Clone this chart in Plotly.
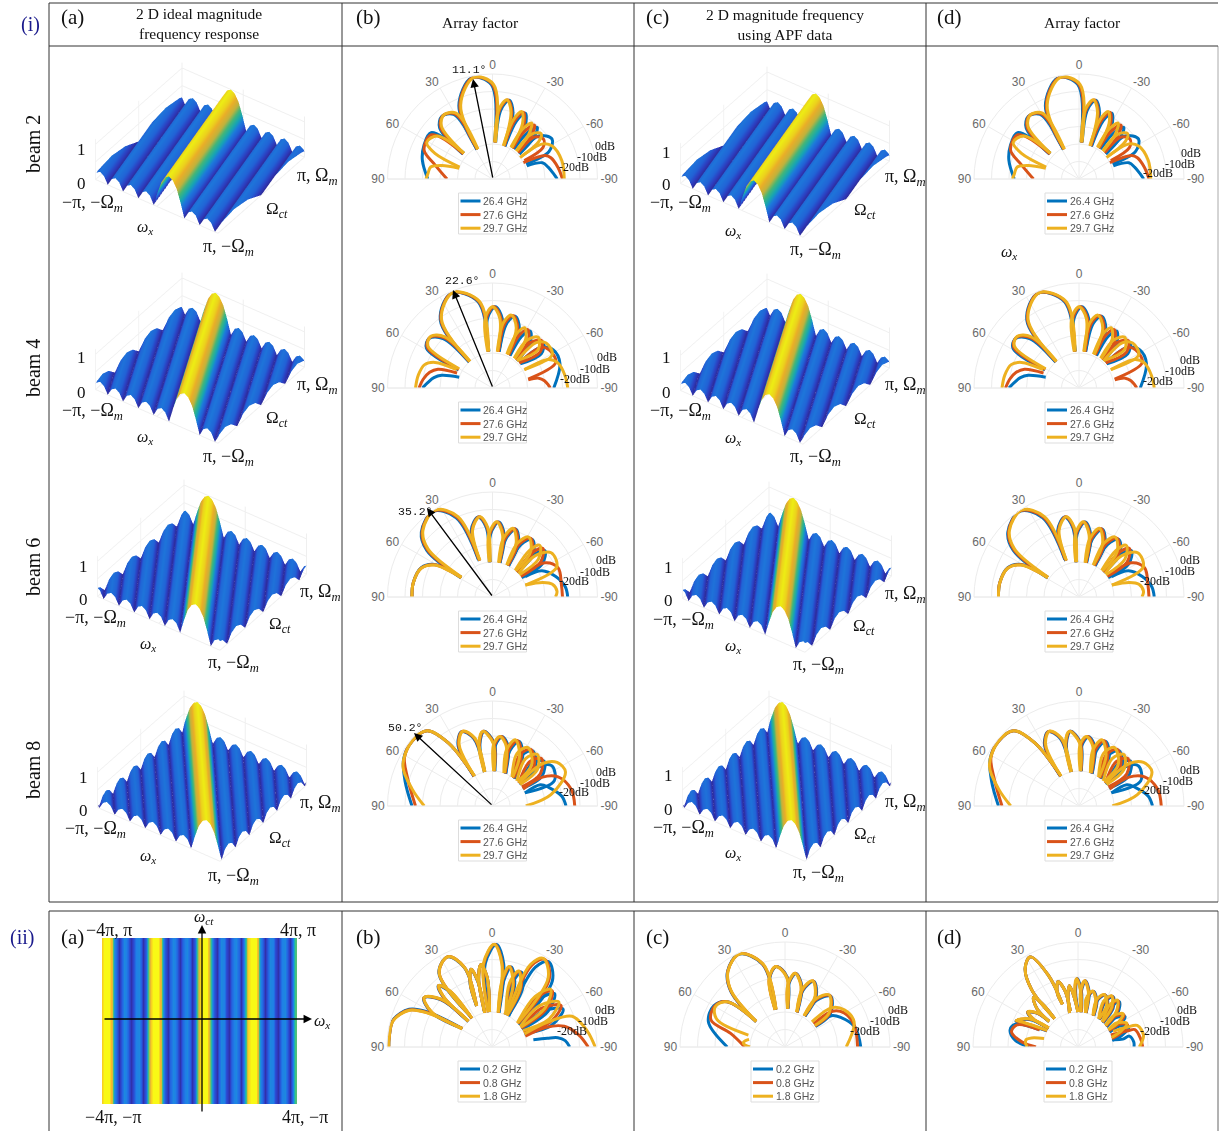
import numpy as np
import plotly.graph_objects as go

W, H = 1223, 1131
def X(p): return p / W
def Y(p): return 1 - p / H

# ---- colours and legend text
BLUE, RED, YEL = "#0072BD", "#D95319", "#EDB120"
FREQ_I = ["26.4 GHz", "27.6 GHz", "29.7 GHz"]
FREQ_II = ["0.2 GHz", "0.8 GHz", "1.8 GHz"]
COLORSCALE = [[0, "#2f2da0"], [.08, "#2f3fc8"], [.18, "#2464e0"], [.3, "#1f80e6"], [.42, "#18aebc"],
              [.56, "#45c080"], [.7, "#c9bb40"], [.84, "#f6b72a"], [1, "#f9f915"]]

# ---- 3-D surface: magnitude against distance from the ridge, ridge slope per beam
PROFILE_U = [0, .0625, .125, .1875, .25, .3125, .375, .4375, .5, .5625, .625, .6875, .75, .8125, .875, .9375, 1,
             1.0625, 1.125, 1.1875, 1.25, 1.3125, 1.375, 1.4375, 1.5, 1.5625, 1.625, 1.6875, 1.75, 1.8125, 1.875, 1.9375, 2]
PROFILE_Z = [1, .93, .74, .40, 0, .22, .29, .22, 0, .21, .28, .21, 0, .21, .28, .21, 0,
             .2, .27, .2, 0, .2, .27, .2, 0, .2, .27, .2, 0, .2, .27, .2, 0]
RIDGE_SLOPE = [.2, .45, .6, .78]

# ---- heat map (ii)(a): one period of the stripe pattern across omega_x
STRIPE_PERIOD = [.9, 1, 1, 1, .75, .35, .15, .02, .18, .32, .3, .12, .02, .15, .3, .32, .18, .02, .18, .55]

# ---- polar panels: every lobe has its angles (deg) and levels (dB)
# beam 2
B2_T = [[27, 24, 11, 0, -4], [49, 45, 38, 30, 27], [-4, -6, -11, -16, -19.5], [-19.5, -21, -25, -30, -33], [-33, -34, -38, -42, -44]]
B2_R = [[-41, -14, -1, -6, -39], [-38, -18, -14, -17, -41], [-39, -20, -14, -20, -40], [-40, -24, -18, -24, -39], [-39, -27, -21, -27, -39]]
B2_SHIFT_BLUE = [.7, 1, -1, -1.5, -3]
B2_SHIFT_YEL = [-.7, -1, .7, 1.5, 3]
B2_BLUE_T = [[48, 53, 64, 75, 90], [-47, -47, -56, -64, -66], [-69, -72, -78, -85, -90]]
B2_BLUE_R = [[-38, -16, -16.4, -18.5, -23], [-39, -24, -19, -24, -39], [-39, -30, -27.5, -25, -23]]
B2_RED_T = [[49, 54, 67, 76, 90], [-44, -45, -52, -58, -60], [-62, -66, -70, -80, -90]]
B2_RED_R = [[-38, -17, -17.5, -26, -34], [-39, -26, -23, -26, -39], [-40, -27, -24.5, -22, -20]]
B2_YEL_T = [[48, 52, 61, 66, 70], [72, 75, 79, 85, 90], [-40, -41, -47, -51, -52], [-52, -55, -61, -75, -90]]
B2_YEL_R = [[-38, -20, -17, -24, -40], [-40, -30, -24, -23, -22], [-39, -26, -22, -26, -39], [-40, -25, -21, -19, -19]]
# beam 4
B4_T = [[41, 37, 23, 9, 6.5], [61, 58, 51, 44, 41], [6.5, 5, -1, -7, -9], [-9, -11, -16, -23, -26], [-26, -27, -31, -37, -40]]
B4_R = [[-40, -11, -1, -10, -39], [-38, -16, -14, -20, -40], [-39, -20, -13.5, -20, -39], [-39, -22, -17, -23, -39], [-39, -26, -21, -26, -39]]
B4_SHIFT_BLUE = [.5, 1, -1, -1.5, -2.5]
B4_SHIFT_YEL = [-.5, -1, 1, 1.5, 3]
B4_BLUE_T = [[72, 76, 80, 85, 90], [-42, -41, -48, -55, -49], [-47, -50, -58, -70, -90]]
B4_BLUE_R = [[-40, -30, -26, -23, -20], [-39, -26, -21, -26, -39], [-39, -24, -19, -19, -25]]
B4_RED_T = [[67, 71, 76, 83, 90], [-40, -40, -46, -53, -47], [-47, -50, -56, -68, -76], [-77, -78, -82, -87, -90]]
B4_RED_R = [[-38, -27, -23, -20, -18], [-39, -26, -21, -26, -39], [-39, -24, -21, -21, -39], [-39, -33, -30, -28, -27]]
B4_YEL_T = [[63, 66, 71, 80, 90], [-36, -36, -42, -50, -42], [-42, -44, -50, -61, -60], [-60, -63, -69, -80, -90]]
B4_YEL_R = [[-37, -24, -19, -17, -16], [-39, -26, -21, -26, -39], [-39, -24, -20, -21, -39], [-39, -24, -20, -18, -17]]
# beam 6
B6_T = [[58, 54, 47, 34, 24, 20], [58, 61, 68, 80, 90], [19.5, 17, 9.5, 4.5, 4.5], [4.5, 2.5, -4, -10, -11.5], [-11.5, -12, -18, -25, -26], [-26, -27, -33, -42, -44], [-44, -42, -46, -54, -54]]
B6_R = [[-39, -14, -5, -.5, -10, -37], [-39, -22, -16, -14, -14], [-38, -20, -13.5, -20, -40], [-40, -24, -17, -24, -40], [-40, -26, -19, -26, -40], [-40, -26, -20, -26, -40], [-40, -26, -20, -26, -40]]
B6_SHIFT_BLUE = [.7, -.3, .7, -.8, -1, -1.5, -2.5]
B6_SHIFT_YEL = [-.7, .3, -.5, .8, 1.5, 2, 3.5]
B6_BLUE_T = [[-58, -62, -72, -82, -90]]
B6_BLUE_R = [[-38, -28, -22, -18, -17]]
B6_RED_T = [[-54, -57, -66, -80, -90]]
B6_RED_R = [[-39, -24, -19, -20, -20]]
B6_YEL_T = [[-48, -46, -53, -65, -70], [-70, -74, -78, -85, -90]]
B6_YEL_R = [[-40, -26, -18, -19.5, -40], [-40, -30, -25, -23, -24]]
# beam 8
B8_T = [[31.5, 29, 22, 15, 13], [13, 12, 7, -1, -3], [-3, -2, -7, -14, -21], [-21, -16, -21, -30, -37], [-37, -28, -34, -46, -49], [-49, -40, -46, -56, -57]]
B8_R = [[-40, -20, -14, -20, -40], [-40, -24, -17, -24, -40], [-40, -25, -20, -25, -40], [-40, -27, -20, -27, -40], [-40, -27, -21, -27, -40], [-40, -27, -21, -27, -40]]
B8_SHIFT_BLUE = [.5, -.5, -1, -1.5, -2, -3]
B8_SHIFT_YEL = [-.5, .5, 1, 2, 3, 5]
B8_BLUE_T = [[90, 74, 62, 51, 41, 35, 31.5], [-52, -50, -56, -68, -68], [-68, -66, -72, -82, -90]]
B8_BLUE_R = [[-14, -8, -2.5, -1, -3, -16, -40], [-40, -25, -19, -22, -40], [-40, -30, -26, -20, -18]]
B8_RED_T = [[90, 72, 61, 51, 41, 35, 31.5], [-61, -60, -66, -78, -90]]
B8_RED_R = [[-16, -9, -2.5, -1, -3, -16, -40], [-40, -27, -19, -14, -13]]
B8_YEL_T = [[90, 78, 66, 52, 41, 35, 31], [-49, -50, -56, -65, -79, -90]]
B8_YEL_R = [[-21, -13, -4, -1, -3, -16, -40], [-40, -22, -15.5, -14, -26, -41]]
# row ii, panel b
IB_T = [[90, 85, 75, 66, 62, 58.6], [58, 60, 54, 47, 42.5], [42.5, 44, 41, 37, 35], [35, 35.5, 26, 19, 20.5], [20.5, 19, 15, 12, 12], [12, 11, 7.5, 4, 4],
        [6, 5.5, -1.5, -7, -10.5], [-10.5, -9, -12.5, -19, -22], [-22, -16, -20, -26, -26], [-26, -26, -31, -40, -48], [-48, -42, -47, -55, -57], [-57, -52, -59, -67, -65]]
IB_R = [[-1, -1, -1.5, -8, -18, -40], [-40, -20, -12, -20, -40], [-40, -20, -13.5, -20, -40], [-38, -8, -2.6, -12, -35], [-35, -22, -14, -22, -40], [-40, -20, -12.5, -20, -40],
        [-40, -12, -1.3, -12, -40], [-40, -22, -13, -22, -40], [-38, -22, -14, -22, -40], [-40, -8, -1.5, -9, -40], [-40, -22, -13, -22, -40], [-40, -24, -14, -24, -40]]
IB_SHIFT_BLUE = [-.5, .3, .3, .2, .2, 0, -1, -1, -1.5, -2.5, -2.5, -3]
IB_SHIFT_YEL = [.3, -.2, -.2, 0, 0, 0, .3, .5, .7, 1, 1.5, 3]
IB_BLUE_T = [[-80, -81, -82, -85, -90]]
IB_BLUE_R = [[-36, -28, -22, -18, -15.6]]
IB_RED_T = [[-72, -70, -74, -82, -90]]
IB_RED_R = [[-40, -27, -17, -10, -5]]
IB_YEL_T = [[-68, -66, -69, -80, -90]]
IB_YEL_R = [[-40, -25, -11, -5, -1]]
# row ii, panel c
IC_T = [[48.5, 44, 37, 26, 15, 13.5], [14.8, 13, 6.4, -1.5, -4], [-4, -3, -8, -15, -19], [-19, -17, -23, -31, -32], [-32, -33, -41, -53, -55]]
IC_R = [[-38, -15.6, -5.7, -.8, -11, -38], [-38, -20, -13.7, -20, -38], [-38, -24, -17.5, -24, -39], [-39, -26, -19, -26, -39], [-39, -28, -21, -28, -39]]
IC_SHIFT_BLUE = [.2, -.3, -.5, -.7, -1]
IC_SHIFT_YEL = [-.2, .2, .3, .5, .8]
IC_BLUE_T = [[48.5, 52, 60, 72, 90], [-54, -56, -62, -74, -90]]
IC_BLUE_R = [[-38, -18, -13, -14, -27], [-39, -28, -24, -18.5, -16.7]]
IC_RED_T = [[48.5, 52, 60, 70, 76, 90], [-51, -53, -60, -72, -90]]
IC_RED_R = [[-38, -18, -13.5, -15, -28, -37], [-39, -26, -21, -18.5, -18.5]]
IC_YEL_T = [[48.5, 52, 60, 68, 72], [78, 81, 84, 87, 90], [-47, -50, -58, -70, -90]]
IC_YEL_R = [[-38, -18, -14, -18, -38], [-39, -37, -36, -37, -40], [-39, -25, -20, -18, -25]]
# row ii, panel d
ID_T = [[39.5, 39, 34, 28, 22.5, 20], [48.5, 47, 42, 39.5, 39.5], [57, 58, 55, 50, 48.5], [62, 66, 67, 60, 57], [20, 21, 17, 13, 12], [14, 11, 8, 5, 0], [0, 3, 1, -3, -5], [-5, -3, -6, -11, -13],
        [-13, -10, -15, -22, -26], [-26, -22, -27, -35, -37], [-37, -30, -34, -41, -45], [-45, -38, -41, -48, -53], [-53, -50, -55, -60, -62], [-62, -60, -66, -72, -76]]
ID_R = [[-39, -18, -6, -1.7, -15.6, -34], [-38, -28, -22, -28, -39], [-40, -30, -25, -30, -38], [-40, -26, -21.6, -28, -40], [-34, -27, -21, -27, -39], [-40, -30, -24.6, -30, -40], [-40, -28, -21, -28, -40], [-40, -28, -22, -28, -40],
        [-40, -32, -27, -32, -40], [-40, -31, -26.5, -31, -40], [-40, -30, -25, -30, -40], [-40, -30, -25, -30, -40], [-40, -33, -28, -33, -40], [-40, -34, -29, -34, -40]]
ID_SHIFT_BLUE = [0, 0, .3, .5, 0, 0, -.5, -.5, -.7, -.8, -1, -1.5, -2, -3]
ID_SHIFT_YEL = [0, 0, -.2, -.3, 0, 0, .3, .3, .5, .6, .8, 1, 1.5, 2]
ID_BLUE_T = [[66, 70, 76, 84, 90], [-78, -80, -78, -85, -90]]
ID_BLUE_R = [[-36, -22, -20, -24, -32], [-40, -34, -30, -28, -28]]
ID_RED_T = [[66, 70, 77, 85, 90], [-70, -72, -73, -82, -90]]
ID_RED_R = [[-36, -23, -21, -28, -36], [-40, -30, -26, -24, -23]]
ID_YEL_T = [[76, 79, 82, 86, 90], [-66, -68, -70, -80, -90]]
ID_YEL_R = [[-40, -33, -30, -30, -31], [-38, -30, -24, -22, -25]]


def panel(t, r, sb, sy, bt, br, rt, rr, yt, yr):
    return dict(t=t, r=r, sb=sb, sy=sy, bt=bt, br=br, rt=rt, rr=rr, yt=yt, yr=yr)

P2 = panel(B2_T, B2_R, B2_SHIFT_BLUE, B2_SHIFT_YEL, B2_BLUE_T, B2_BLUE_R, B2_RED_T, B2_RED_R, B2_YEL_T, B2_YEL_R)
P4 = panel(B4_T, B4_R, B4_SHIFT_BLUE, B4_SHIFT_YEL, B4_BLUE_T, B4_BLUE_R, B4_RED_T, B4_RED_R, B4_YEL_T, B4_YEL_R)
P6 = panel(B6_T, B6_R, B6_SHIFT_BLUE, B6_SHIFT_YEL, B6_BLUE_T, B6_BLUE_R, B6_RED_T, B6_RED_R, B6_YEL_T, B6_YEL_R)
P8 = panel(B8_T, B8_R, B8_SHIFT_BLUE, B8_SHIFT_YEL, B8_BLUE_T, B8_BLUE_R, B8_RED_T, B8_RED_R, B8_YEL_T, B8_YEL_R)
PIB = panel(IB_T, IB_R, IB_SHIFT_BLUE, IB_SHIFT_YEL, IB_BLUE_T, IB_BLUE_R, IB_RED_T, IB_RED_R, IB_YEL_T, IB_YEL_R)
PIC = panel(IC_T, IC_R, IC_SHIFT_BLUE, IC_SHIFT_YEL, IC_BLUE_T, IC_BLUE_R, IC_RED_T, IC_RED_R, IC_YEL_T, IC_YEL_R)
PID = panel(ID_T, ID_R, ID_SHIFT_BLUE, ID_SHIFT_YEL, ID_BLUE_T, ID_BLUE_R, ID_RED_T, ID_RED_R, ID_YEL_T, ID_YEL_R)

# centre x, centre y, data, legend names, dB label positions
POLARS = [
    (492.5, 179, P2, FREQ_I, [(605, 146), (592, 157), (574, 167)]),
    (492.5, 388, P4, FREQ_I, [(607, 357), (595, 369), (575, 379)]),
    (492.5, 597, P6, FREQ_I, [(606, 560), (595, 572), (574, 581)]),
    (492.5, 806, P8, FREQ_I, [(606, 772), (595, 783), (574, 792)]),
    (1079, 179, P2, FREQ_I, [(1191, 153), (1180, 164), (1158, 173)]),
    (1079, 388, P4, FREQ_I, [(1190, 360), (1180, 371), (1158, 381)]),
    (1079, 597, P6, FREQ_I, [(1190, 560), (1180, 571), (1155, 581)]),
    (1079, 806, P8, FREQ_I, [(1190, 770), (1178, 781), (1155, 790)]),
    (492, 1047, PIB, FREQ_II, [(605, 1010), (593, 1021), (572, 1031)]),
    (785, 1047, PIC, FREQ_II, [(898, 1010), (885, 1021), (865, 1031)]),
    (1078, 1047, PID, FREQ_II, [(1187, 1010), (1175, 1021), (1155, 1031)]),
]
R_PX = 105

fig = go.Figure()
layout = {}
ann = []
shapes = []

def text(x, y, s, size=13, color="#111", family="Liberation Serif", **kw):
    d = dict(x=X(x), y=Y(y), xref="paper", yref="paper", text=s, showarrow=False,
             font=dict(size=size, color=color, family=family), xanchor="center", yanchor="middle")
    d.update(kw)
    ann.append(d)

def line(x0, y0, x1, y1, color="#333", width=1):
    shapes.append(dict(type="line", xref="paper", yref="paper", x0=X(x0), y0=Y(y0), x1=X(x1), y1=Y(y1),
                       line=dict(color=color, width=width)))

def lobes(t_rows, r_rows, shift, extra_t, extra_r):
    th, rr = [], []
    for row_t, row_r, s in zip(t_rows, r_rows, shift):
        th += [v + s for v in row_t] + [None]
        rr += list(row_r) + [None]
    for row_t, row_r in zip(extra_t, extra_r):
        th += list(row_t) + [None]
        rr += list(row_r) + [None]
    return th, rr

# ---------- polar panels
for i, (cx, cy, d, names, dbpos) in enumerate(POLARS):
    key = "polar" if i == 0 else f"polar{i+1}"
    layout[key] = dict(
        domain=dict(x=[X(cx - R_PX), X(cx + R_PX)], y=[Y(cy), Y(cy - R_PX)]),
        sector=[0, 180], bgcolor="rgba(0,0,0,0)",
        angularaxis=dict(rotation=90, direction="counterclockwise", tickmode="array",
                         tickvals=[-90, -60, -30, 0, 30, 60, 90],
                         ticktext=["-90", "-60", "-30", "0", "30", "60", "90"],
                         gridcolor="#ececec", linecolor="#ececec", ticks="",
                         tickfont=dict(size=12, color="#6a6a6a", family="Liberation Sans")),
        radialaxis=dict(range=[-60, 0], tickvals=[-50, -40, -30, -20, -10, 0], showticklabels=False,
                        ticks="", gridcolor="#ececec", showline=False))
    series = [(BLUE, d["sb"], d["bt"], d["br"]), (RED, [0] * len(d["t"]), d["rt"], d["rr"]), (YEL, d["sy"], d["yt"], d["yr"])]
    for (col, sh, et, er), nm in zip(series, names):
        th, rr = lobes(d["t"], d["r"], sh, et, er)
        fig.add_trace(go.Scatterpolar(theta=th, r=rr, mode="lines", subplot=key, name=nm, showlegend=False,
                                      line=dict(color=col, width=3, shape="spline", smoothing=1.0),
                                      hoverinfo="skip"))
    # dB labels
    for (px_, py_), s in zip(dbpos, ["0dB", "-10dB", "-20dB"]):
        text(px_, py_, s, size=12, color="#111")
    # legend
    top = cy + 14
    shapes.append(dict(type="rect", xref="paper", yref="paper", x0=X(cx - 34), x1=X(cx + 34), y0=Y(top), y1=Y(top + 41),
                       line=dict(color="#dddddd", width=1), fillcolor="white"))
    for k, (col, nm) in enumerate(zip([BLUE, RED, YEL], names)):
        yy = top + 8 + 13.6 * k
        line(cx - 32, yy, cx - 12, yy, color=col, width=3)
        text(cx - 11.5, yy, nm, size=10.5, color="#555", family="Liberation Sans", xanchor="left")

# ---------- surfaces
grid = np.linspace(-1, 1, 161)
xx, yy = np.meshgrid(grid, grid)
# left corner of the surface in each panel
SURFACES = [(95, 181), (95, 391), (97, 598), (97, 809), (680, 185), (680, 392), (682, 600), (682, 809)]
SLOPE_IDX = [0, 1, 2, 3, 0, 1, 2, 3]
EYE = 1.6
BOX = 1.25
for i, ((lx, ly), si) in enumerate(zip(SURFACES, SLOPE_IDX)):
    key = "scene" if i == 0 else f"scene{i+1}"
    z = np.interp(np.abs(xx + RIDGE_SLOPE[si] * yy), PROFILE_U, PROFILE_Z)
    fig.add_trace(go.Surface(x=grid, y=grid, z=z, scene=key, colorscale=COLORSCALE, cmin=0, cmax=1, showscale=False,
                             hoverinfo="skip",
                             lighting=dict(ambient=.95, diffuse=.15, specular=0, roughness=1, fresnel=0),
                             lightposition=dict(x=1000, y=-3000, z=3000)))
    cxp, cyp = lx + 105, ly - 33
    ax_ = dict(showticklabels=False, title="", showbackground=False, gridcolor="#efefef", zeroline=False,
               showspikes=False, ticks="", showline=False)
    layout[key] = dict(
        domain=dict(x=[X(cxp - 140), X(cxp + 140)], y=[Y(cyp + 120), Y(cyp - 120)]),
        xaxis=dict(ax_, range=[-1, 1], tickvals=[-1, 0, 1]), yaxis=dict(ax_, range=[-1, 1], tickvals=[-1, 0, 1]),
        zaxis=dict(ax_, range=[0, 1.15], tickvals=[0, .5, 1]),
        aspectmode="manual", aspectratio=dict(x=BOX, y=BOX, z=.345 * BOX),
        camera=dict(projection=dict(type="orthographic"),
                    eye=dict(x=.45 * EYE, y=-.637 * EYE, z=.62 * EYE), up=dict(x=0, y=0, z=1),
                    center=dict(x=0, y=0, z=0)))

LAB_M = "\u2212\u03c0, \u2212\u03a9<sub><i>m</i></sub>"
LAB_F = "\u03c0, \u2212\u03a9<sub><i>m</i></sub>"
LAB_R = "\u03c0, \u03a9<sub><i>m</i></sub>"
LAB_W = "<i>\u03c9<sub>x</sub></i>"
LAB_O = "\u03a9<sub><i>ct</i></sub>"
SURF_LABELS = [
    [(81, 150), (81, 183), (92, 204), (145, 228), (228, 248), (277, 210), (317, 176)],
    [(81, 358), (81, 392), (93, 411), (145, 437), (228, 457), (277, 419), (317, 385)],
    [(83, 566), (83, 599), (95, 618), (148, 644), (233, 663), (280, 625), (320, 592)],
    [(83, 777), (83, 810), (95, 829), (148, 856), (233, 876), (280, 839), (320, 803)],
    [(666, 152), (666, 185), (680, 204), (733, 231), (815, 250), (865, 211), (905, 178)],
    [(666, 358), (666, 393), (680, 412), (733, 438), (815, 457), (865, 420), (905, 385)],
    [(668, 567), (668, 600), (683, 620), (733, 646), (818, 665), (864, 627), (905, 594)],
    [(668, 775), (668, 809), (683, 828), (733, 853), (818, 873), (865, 835), (906, 802)],
]
for row in SURF_LABELS:
    for (px_, py_), s, sz in zip(row, ["1", "0", LAB_M, LAB_W, LAB_F, LAB_O, LAB_R], [17, 17, 18, 16, 18, 17, 18]):
        text(px_, py_, s, size=sz)
text(1009, 253, LAB_W, size=16)

# ---------- heat map
z_row = STRIPE_PERIOD * 4 + [.6]
x_vals = np.linspace(-4, 4, len(z_row))
fig.add_trace(go.Heatmap(x=x_vals, y=[-1, 1], z=[z_row, z_row], colorscale=COLORSCALE, zmin=0, zmax=1, zsmooth="best",
                         showscale=False, hoverinfo="skip"))
layout["xaxis"] = dict(domain=[X(102), X(297)], visible=False, range=[-4, 4])
layout["yaxis"] = dict(domain=[Y(1104), Y(938)], visible=False, range=[-1, 1])

def arrow(x0, y0, x1, y1, w=1.3):
    ann.append(dict(x=X(x1), y=Y(y1), xref="paper", yref="paper", ax=x0 - x1, ay=y0 - y1, axref="pixel", ayref="pixel",
                    text="", showarrow=True, arrowhead=2, arrowsize=1.3, arrowwidth=w, arrowcolor="#000"))
arrow(103, 1019, 312, 1019)
arrow(202, 1113, 202, 925)
text(322, 1021, LAB_W, size=16)
text(204, 917, "<i>\u03c9<sub>ct</sub></i>", size=16)
text(109, 930, "\u22124\u03c0, \u03c0", size=18)
text(298, 930, "4\u03c0, \u03c0", size=18)
text(113, 1117, "\u22124\u03c0, \u2212\u03c0", size=18)
text(305, 1117, "4\u03c0, \u2212\u03c0", size=18)

# ---------- beam arrows
BEAM_ARROWS = [((493, 179), (473, 79), "11.1\u00b0", (469, 69)), ((493, 388), (453, 290), "22.6\u00b0", (462, 281)),
               ((493, 597), (427, 508), "35.2\u00b0", (415, 511)), ((493, 806), (414, 733), "50.2\u00b0", (405, 727))]
for (a, b, s, p) in BEAM_ARROWS:
    arrow(a[0], a[1], b[0], b[1], w=1.3)
    text(p[0], p[1], s, size=11.5, family="Liberation Mono")

# ---------- table frame and headers
for x in [49, 342, 634, 926]:
    line(x, 3, x, 902)
    line(x, 911, x, 1131)
line(1218, 46, 1218, 902, color="#aaa")
line(1218, 911, 1218, 1131, color="#666")
line(49, 3, 1218, 3)
line(49, 46, 1218, 46)
line(49, 902, 1218, 902)
line(49, 911, 1218, 911)

for x, s in zip([72, 368, 657, 949], ["(a)", "(b)", "(c)", "(d)"]):
    text(x, 17, s, size=21)
    text(x, 937, s, size=21)
text(199, 23, "2 D ideal magnitude<br>frequency response", size=15.5)
text(480, 22, "Array factor", size=15.5)
text(785, 24, "2 D magnitude frequency<br>using APF data", size=15.5)
text(1082, 22, "Array factor", size=15.5)
text(30, 25, "(i)", size=20, color="#1a1a8c")
text(22, 937, "(ii)", size=20, color="#1a1a8c")
for y, s in zip([144, 368, 567, 770], ["beam 2", "beam 4", "beam 6", "beam 8"]):
    text(33, y, s, size=20, textangle=-90)

layout.update(width=W, height=H, margin=dict(l=0, r=0, t=0, b=0), autosize=False, paper_bgcolor="white",
              plot_bgcolor="white", showlegend=False, annotations=ann, shapes=shapes)
fig.update_layout(**layout)
fig.write_html("out.html", post_script="document.body.style.margin='0';", config={"displayModeBar": False})
